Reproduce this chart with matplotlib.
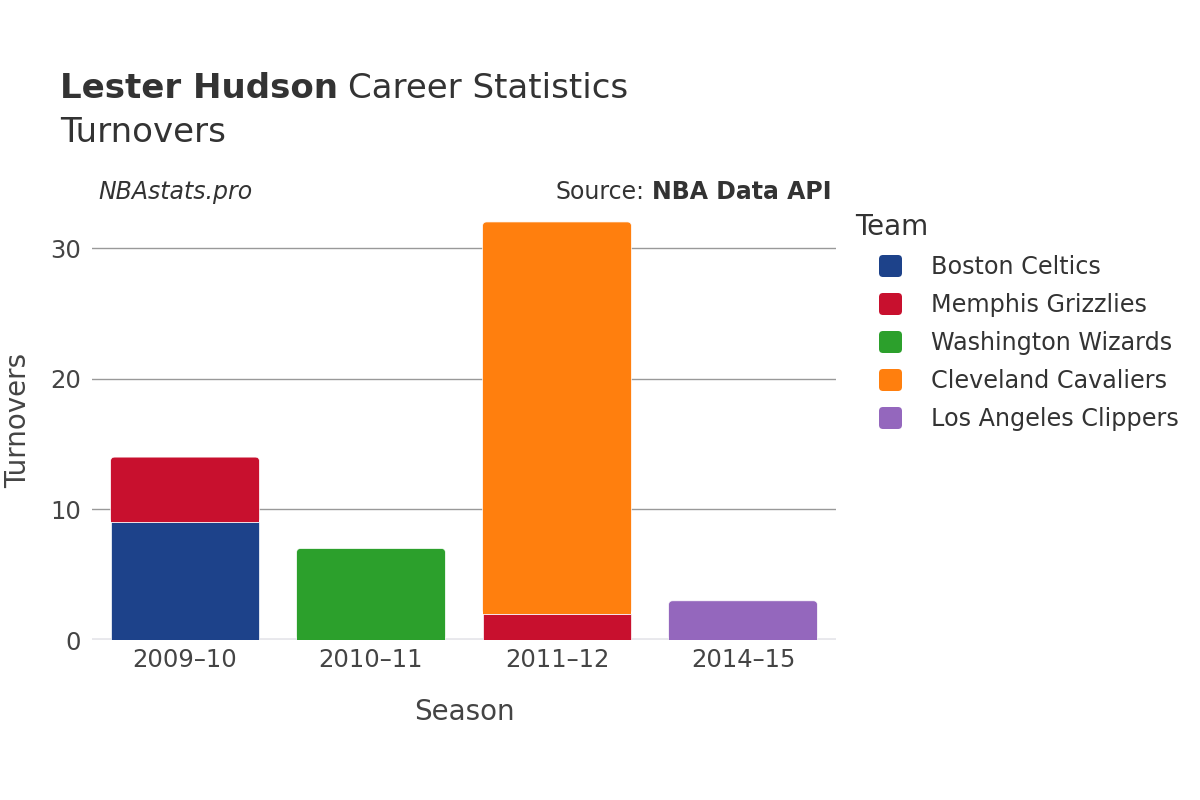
import matplotlib
matplotlib.use("Agg")
import matplotlib.pyplot as plt
from matplotlib.patches import FancyBboxPatch, Rectangle

seasons = ["2009–10", "2010–11", "2011–12", "2014–15"]
teams = ["Boston Celtics", "Memphis Grizzlies", "Washington Wizards",
         "Cleveland Cavaliers", "Los Angeles Clippers"]
colors = ["#1d428a", "#c8102e", "#2ca02c", "#ff7f0e", "#9467bd"]
boston = [9, 0, 0, 0]
memphis = [5, 0, 2, 0]
washington = [0, 7, 0, 0]
cleveland = [0, 0, 30, 0]
clippers = [0, 0, 0, 3]
series = [boston, memphis, washington, cleveland, clippers]

W, H = 1200, 800
fig = plt.figure(figsize=(12, 8), dpi=100)
ax = fig.add_axes([92 / W, 1 - 640 / H, (836 - 92) / W, (640 - 200) / H])
ax.set_xlim(-0.5, 3.5)
ax.set_ylim(0, 33.68)

txt = "#444444"
dark = "#333333"
for s in ["top", "right", "left", "bottom"]:
    ax.spines[s].set_visible(False)
ax.set_yticks([0, 10, 20, 30])
ax.yaxis.grid(True, color="#999999", linewidth=1)
ax.set_axisbelow(True)
ax.tick_params(axis="both", length=0, labelsize=17.5, colors=txt)
ax.tick_params(axis="y", pad=8)
ax.tick_params(axis="x", pad=6)
ax.set_xticks(range(len(seasons)))
ax.set_xticklabels(seasons)
ax.axhline(0, color="#e8e8ec", linewidth=3.5, zorder=1)

fig.canvas.draw()
px_x = ax.transData.transform((1, 0))[0] - ax.transData.transform((0, 0))[0]
px_y = ax.transData.transform((0, 1))[1] - ax.transData.transform((0, 0))[1]
aspect = px_x / px_y
r_px = 4.0
width = 0.8

for i in range(len(seasons)):
    bottom = 0
    segs = [(t, series[t][i]) for t in range(len(series)) if series[t][i] > 0]
    for k, (t, v) in enumerate(segs):
        x0 = i - width / 2
        if k == len(segs) - 1:
            p = FancyBboxPatch((x0, bottom), width, v,
                               boxstyle=f"round,pad=0,rounding_size={r_px / px_x}",
                               mutation_aspect=aspect, facecolor=colors[t],
                               edgecolor="white", linewidth=0.5, zorder=3)
            ax.add_patch(p)
            ax.add_patch(Rectangle((x0, bottom), width, v / 2, facecolor=colors[t],
                                   edgecolor="none", zorder=3))
        else:
            ax.add_patch(Rectangle((x0, bottom), width, v, facecolor=colors[t],
                                   edgecolor="white", linewidth=0.5, zorder=3))
        bottom += v

fig.text(464 / W, 1 - 712 / H, "Season", fontsize=20, color=txt,
         va="center", ha="center")
fig.text(18 / W, 1 - 420 / H, "Turnovers", fontsize=20, color=txt,
         va="center", ha="center", rotation=90)

t1 = fig.text(60 / W, 1 - 89 / H, "Lester Hudson", fontsize=24.5, fontweight="bold",
              color=dark, va="center", ha="left")
fig.canvas.draw()
bb = t1.get_window_extent()
fig.text((bb.x1 + 10) / W, 1 - 89 / H, "Career Statistics", fontsize=24.5,
         color=dark, va="center", ha="left")
fig.text(60 / W, 1 - 133 / H, "Turnovers", fontsize=24.5, color=dark,
         va="center", ha="left")
fig.text(98 / W, 1 - 192 / H, "NBAstats.pro", fontsize=17, style="italic",
         color=dark, va="center", ha="left")
s2 = fig.text(832 / W, 1 - 192 / H, "NBA Data API", fontsize=17, fontweight="bold",
              color=dark, va="center", ha="right")
fig.canvas.draw()
bb2 = s2.get_window_extent()
fig.text((bb2.x0 - 8) / W, 1 - 192 / H, "Source:", fontsize=17,
         color=dark, va="center", ha="right")

fig.text(855 / W, 1 - 227 / H, "Team", fontsize=20, color=dark,
         va="center", ha="left")
for j, (name, c) in enumerate(zip(teams, colors)):
    yc = 266 + 38 * j
    fig.patches.append(FancyBboxPatch((879 / W, 1 - (yc + 11) / H), 23 / W, 22 / H,
                                      boxstyle=f"round,pad=0,rounding_size={4 / W}",
                                      mutation_aspect=W / H,
                                      transform=fig.transFigure, facecolor=c,
                                      edgecolor="none", figure=fig))
    fig.text(931 / W, 1 - (yc + 1) / H, name, fontsize=17.2, color=dark,
             va="center", ha="left")

fig.savefig("out.png", dpi=100)
